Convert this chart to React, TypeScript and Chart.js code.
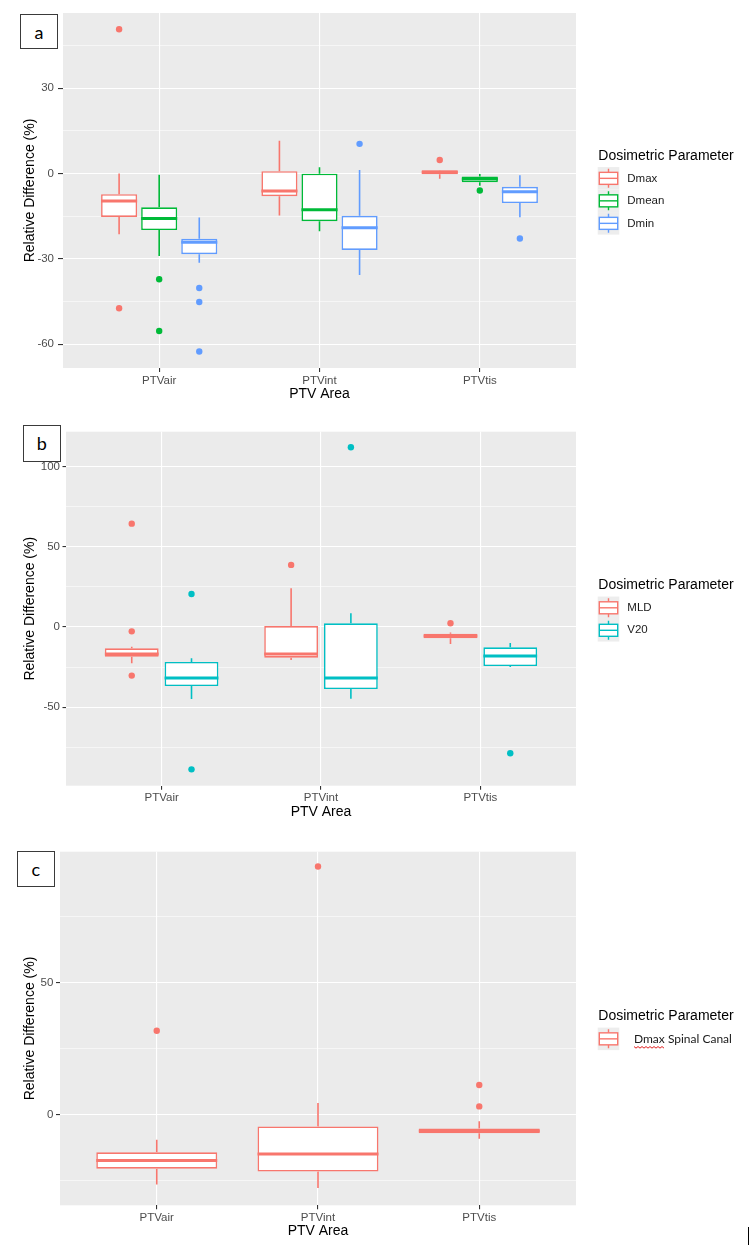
import React, { useEffect, useRef } from 'react';
import { Chart, registerables } from 'chart.js';
Chart.register(...registerables);

const FONT = '"Liberation Sans", Arial, Helvetica, sans-serif';

// ---------- shared ----------
const categories = ['PTVair', 'PTVint', 'PTVtis'];
const xTitle = 'PTV Area';
const yTitle = 'Relative Difference (%)';
const legendTitle = 'Dosimetric Parameter';

// ---------- panel a ----------
const aNames = ['Dmax', 'Dmean', 'Dmin'];
const aColors = ['#F8766D', '#00BA38', '#619CFF'];
const aDmaxLow = [-21.4, -14.8, -1.9];
const aDmaxQ1 = [-15.3, -8.0, -0.3];
const aDmaxMed = [-9.7, -6.2, 0.4];
const aDmaxQ3 = [-7.3, 0.8, 1.1];
const aDmaxHigh = [0.0, 11.5, 1.2];
const aDmaxOut = [[50.7, -47.4], [], [4.7]];
const aDmeanLow = [-29.0, -20.3, -4.3];
const aDmeanQ1 = [-19.9, -16.8, -3.1];
const aDmeanMed = [-15.8, -12.8, -2.0];
const aDmeanQ3 = [-11.9, -0.1, -1.1];
const aDmeanHigh = [-0.5, 2.2, -0.2];
const aDmeanOut = [[-37.2, -55.4], [], [-6.0]];
const aDminLow = [-31.4, -35.7, -15.4];
const aDminQ1 = [-28.4, -26.9, -10.4];
const aDminMed = [-24.2, -19.1, -6.4];
const aDminQ3 = [-23.0, -14.9, -4.7];
const aDminHigh = [-15.5, 1.2, -0.6];
const aDminOut = [[-40.3, -45.2, -62.6], [10.4], [-22.9]];
const aYRange = [-68.4, 56.4];
const aYMajor = [-60, -30, 0, 30];
const aYMinor = [-45, -15, 15, 45];

// ---------- panel b ----------
const bNames = ['MLD', 'V20'];
const bColors = ['#F8766D', '#00BFC4'];
const bMldLow = [-22.6, -20.6, -10.6];
const bMldQ1 = [-18.5, -19.1, -7.0];
const bMldMed = [-16.8, -16.8, -5.6];
const bMldQ3 = [-13.3, 0.6, -4.2];
const bMldHigh = [-12.3, 24.1, -3.5];
const bMldOut = [[64.4, -2.7, -30.3], [38.7], [2.3]];
const bV20Low = [-44.9, -44.7, -24.9];
const bV20Q1 = [-36.8, -38.7, -24.3];
const bV20Med = [-31.8, -31.8, -18.1];
const bV20Q3 = [-21.8, 2.3, -12.7];
const bV20High = [-19.5, 8.5, -10.0];
const bV20Out = [[20.6, -88.7], [112.0], [-78.7]];
const bYRange = [-98.9, 121.7];
const bYMajor = [-50, 0, 50, 100];
const bYMinor = [-75, -25, 25, 75];

// ---------- panel c ----------
const cNames = ['Dmax Spinal Canal'];
const cColors = ['#F8766D'];
const cLow = [-26.5, -27.8, -9.2];
const cQ1 = [-20.5, -21.6, -7.1];
const cMed = [-17.4, -14.9, -6.2];
const cQ3 = [-14.3, -4.5, -5.3];
const cHigh = [-9.5, 4.4, -2.5];
const cOut = [[31.8], [94.1], [11.2, 3.1]];
const cYRange = [-34.4, 99.7];
const cYMajor = [0, 50];
const cYMinor = [-25, 25, 75];

type Series = { name: string; color: string; low: number[]; q1: number[]; med: number[]; q3: number[]; high: number[]; out: number[][] };
type Panel = {
  series: Series[]; yRange: number[]; yMajor: number[]; yMinor: number[];
  height: number; top: number; plotTop: number; xAxisH: number; yAxisW: number;
  barPct: number; yTickLen: number; yTickPad: number; legendFont: string; legendTextOffset: number; squiggle?: boolean;
};

const panelA: Panel = {
  series: [
    { name: aNames[0], color: aColors[0], low: aDmaxLow, q1: aDmaxQ1, med: aDmaxMed, q3: aDmaxQ3, high: aDmaxHigh, out: aDmaxOut },
    { name: aNames[1], color: aColors[1], low: aDmeanLow, q1: aDmeanQ1, med: aDmeanMed, q3: aDmeanQ3, high: aDmeanHigh, out: aDmeanOut },
    { name: aNames[2], color: aColors[2], low: aDminLow, q1: aDminQ1, med: aDminMed, q3: aDminQ3, high: aDminHigh, out: aDminOut },
  ],
  yRange: aYRange, yMajor: aYMajor, yMinor: aYMinor,
  top: 0, height: 410, plotTop: 13, xAxisH: 42, yAxisW: 63, barPct: 0.9,
  yTickLen: 5, yTickPad: 4, legendFont: `11.5px ${FONT}`, legendTextOffset: 29.6,
};
const panelB: Panel = {
  series: [
    { name: bNames[0], color: bColors[0], low: bMldLow, q1: bMldQ1, med: bMldMed, q3: bMldQ3, high: bMldHigh, out: bMldOut },
    { name: bNames[1], color: bColors[1], low: bV20Low, q1: bV20Q1, med: bV20Med, q3: bV20Q3, high: bV20High, out: bV20Out },
  ],
  yRange: bYRange, yMajor: bYMajor, yMinor: bYMinor,
  top: 410, height: 420, plotTop: 21.7, xAxisH: 44.3, yAxisW: 66, barPct: 0.9,
  yTickLen: 3.5, yTickPad: 2.5, legendFont: `11.5px ${FONT}`, legendTextOffset: 29.6,
};
const panelC: Panel = {
  series: [
    { name: cNames[0], color: cColors[0], low: cLow, q1: cQ1, med: cMed, q3: cQ3, high: cHigh, out: cOut },
  ],
  yRange: cYRange, yMajor: cYMajor, yMinor: cYMinor,
  top: 830, height: 424, plotTop: 21.7, xAxisH: 48.7, yAxisW: 60, barPct: 1.0,
  yTickLen: 4, yTickPad: 2.7, legendFont: `12px Lato, ${FONT}`, legendTextOffset: 36.3, squiggle: true,
};

function makePlugin(p: Panel) {
  return {
    id: 'boxExtras',
    beforeDraw(chart: any) {
      const { ctx, chartArea: ca } = chart;
      ctx.save();
      ctx.fillStyle = '#EBEBEB';
      ctx.fillRect(ca.left, ca.top, ca.right - ca.left, ca.bottom - ca.top);
      ctx.restore();
    },
    beforeDatasetsDraw(chart: any) {
      const { ctx } = chart;
      const ys = chart.scales.y;
      ctx.save();
      p.series.forEach((s, g) => {
        const meta = chart.getDatasetMeta(g);
        meta.data.forEach((el: any, i: number) => {
          ctx.strokeStyle = s.color;
          ctx.lineWidth = 1.6;
          ctx.beginPath();
          ctx.moveTo(el.x, ys.getPixelForValue(s.q3[i]));
          ctx.lineTo(el.x, ys.getPixelForValue(s.high[i]));
          ctx.moveTo(el.x, ys.getPixelForValue(s.q1[i]));
          ctx.lineTo(el.x, ys.getPixelForValue(s.low[i]));
          ctx.stroke();
        });
      });
      ctx.restore();
    },
    afterDatasetsDraw(chart: any) {
      const { ctx } = chart;
      const ys = chart.scales.y;
      ctx.save();
      p.series.forEach((s, g) => {
        const meta = chart.getDatasetMeta(g);
        meta.data.forEach((el: any, i: number) => {
          const y = ys.getPixelForValue(s.med[i]);
          ctx.strokeStyle = s.color;
          ctx.lineWidth = 3;
          ctx.beginPath();
          ctx.moveTo(el.x - el.width / 2, y);
          ctx.lineTo(el.x + el.width / 2, y);
          ctx.stroke();
        });
      });
      ctx.restore();
    },
    afterDraw(chart: any) {
      const { ctx, chartArea: ca } = chart;
      const n = p.series.length;
      const keyH = 22.5, keyW = 21.6;
      const blockH = 20.7 + n * keyH;
      const top = (ca.top + ca.bottom) / 2 - blockH / 2;
      const left = ca.right + 21.7;
      ctx.save();
      ctx.fillStyle = '#000000';
      ctx.font = `14px ${FONT}`;
      ctx.textAlign = 'left';
      ctx.textBaseline = 'alphabetic';
      ctx.fillText(legendTitle, left + 0.6, top + 13.5);
      p.series.forEach((s, g) => {
        const y0 = top + 20.7 + g * keyH;
        const cy = y0 + keyH / 2;
        const cx = left + keyW / 2;
        ctx.fillStyle = '#EDEDED';
        ctx.fillRect(left, y0, keyW, keyH);
        ctx.strokeStyle = s.color;
        ctx.lineWidth = 1.4;
        ctx.beginPath();
        ctx.moveTo(cx, cy - 9.5); ctx.lineTo(cx, cy - 6);
        ctx.moveTo(cx, cy + 6); ctx.lineTo(cx, cy + 9.5);
        ctx.stroke();
        ctx.fillStyle = '#FFFFFF';
        ctx.fillRect(left + 1.6, cy - 6, keyW - 3.2, 12);
        ctx.strokeRect(left + 1.6, cy - 6, keyW - 3.2, 12);
        ctx.beginPath();
        ctx.moveTo(left + 1.6, cy); ctx.lineTo(left + keyW - 1.6, cy);
        ctx.stroke();
        ctx.fillStyle = '#1A1A1A';
        ctx.font = p.legendFont;
        ctx.textBaseline = 'middle';
        const tx = left + p.legendTextOffset;
        ctx.fillText(s.name, tx, cy);
        if (p.squiggle) {
          const w = ctx.measureText(s.name.split(' ')[0]).width;
          ctx.strokeStyle = '#E02020';
          ctx.lineWidth = 1;
          ctx.beginPath();
          const yb = cy + 8.5;
          for (let k = 0; k <= w; k += 2) {
            const yy = yb + ((k / 2) % 2 === 0 ? -0.8 : 0.8);
            if (k === 0) ctx.moveTo(tx + k, yy); else ctx.lineTo(tx + k, yy);
          }
          ctx.stroke();
        }
      });
      ctx.restore();
    },
  };
}

function buildConfig(p: Panel): any {
  const n = p.series.length;
  const slot = 0.75 / n;
  const datasets: any[] = [];
  p.series.forEach((s) => {
    datasets.push({
      type: 'bar',
      label: s.name,
      data: categories.map((c, i) => ({ x: i + 1, y: [s.q1[i], s.q3[i]] })),
      backgroundColor: '#FFFFFF',
      borderColor: s.color,
      borderWidth: 1.6,
      borderSkipped: false,
      categoryPercentage: 0.75,
      barPercentage: p.barPct,
    });
  });
  p.series.forEach((s, g) => {
    const off = (g - (n - 1) / 2) * slot;
    const pts: any[] = [];
    s.out.forEach((arr, i) => arr.forEach((v) => pts.push({ x: i + 1 + off, y: v })));
    datasets.push({
      type: 'scatter',
      label: s.name + ' outliers',
      data: pts,
      backgroundColor: s.color,
      borderColor: s.color,
      borderWidth: 0,
      pointRadius: 3.2,
      pointHoverRadius: 3.2,
    });
  });
  const yTicks = [...p.yMajor, ...p.yMinor].sort((a, b) => a - b);
  const isMajor = (v: any) => p.yMajor.includes(v);
  return {
    type: 'bar',
    data: { datasets },
    plugins: [makePlugin(p)],
    options: {
      animation: false,
      responsive: false,
      maintainAspectRatio: false,
      events: [],
      layout: { padding: { left: 0, top: p.plotTop, right: 174, bottom: 0 } },
      plugins: { legend: { display: false }, tooltip: { enabled: false } },
      scales: {
        x: {
          type: 'linear',
          min: 0.4,
          max: 3.6,
          offset: false,
          afterBuildTicks: (s: any) => { s.ticks = categories.map((c, i) => ({ value: i + 1 })); },
          afterFit: (s: any) => { s.height = p.xAxisH; },
          ticks: {
            callback: (v: any) => categories[Math.round(v) - 1],
            color: '#4D4D4D',
            font: { family: FONT, size: 11.5 },
            padding: 1.5,
            autoSkip: false,
            maxRotation: 0,
          },
          grid: { offset: false, color: '#FFFFFF', lineWidth: 1.1, tickColor: '#333333', tickLength: 4 },
          border: { display: false },
          title: {
            display: true, text: xTitle, color: '#000000',
            font: { family: FONT, size: 14 },
            padding: { top: 0, bottom: p.xAxisH - 26 - 8.4 },
          },
        },
        y: {
          type: 'linear',
          min: p.yRange[0],
          max: p.yRange[1],
          afterBuildTicks: (s: any) => { s.ticks = yTicks.map((v) => ({ value: v })); },
          afterFit: (s: any) => { s.width = p.yAxisW; },
          ticks: {
            callback: (v: any) => (isMajor(v) ? String(v) : ''),
            color: '#4D4D4D',
            font: { family: FONT, size: 11.5 },
            padding: p.yTickPad,
          },
          grid: {
            color: '#FFFFFF',
            lineWidth: (c: any) => (isMajor(c.tick && c.tick.value) ? 1.1 : 0.55),
            tickColor: (c: any) => (isMajor(c.tick && c.tick.value) ? '#333333' : 'rgba(0,0,0,0)'),
            tickLength: p.yTickLen,
          },
          border: { display: false },
          title: {
            display: true, text: yTitle, color: '#000000',
            font: { family: FONT, size: 14 },
            padding: { top: 21.6, bottom: 0 },
          },
        },
      },
    },
  };
}

function PanelChart({ p }: { p: Panel }) {
  const ref = useRef<HTMLCanvasElement>(null);
  useEffect(() => {
    const chart = new Chart(ref.current as HTMLCanvasElement, buildConfig(p));
    return () => chart.destroy();
  }, []);
  return (
    <canvas
      ref={ref}
      width={750}
      height={p.height}
      style={{ position: 'absolute', left: 0, top: p.top, width: 750, height: p.height }}
    />
  );
}

const labelBox = (text: string, left: number, top: number, w: number, h: number) => (
  <div
    style={{
      position: 'absolute', left, top, width: w, height: h, boxSizing: 'border-box',
      border: '1px solid #3A3A3A', background: '#FFFFFF', display: 'flex',
      alignItems: 'center', justifyContent: 'center',
      fontFamily: 'Lato, "Open Sans", sans-serif', fontSize: 18, color: '#000', lineHeight: 1,
    }}
  >
    {text}
  </div>
);

export default function App() {
  return (
    <div style={{ position: 'absolute', left: 0, top: 0, width: 750, height: 1254, background: '#FFFFFF', overflow: 'hidden' }}>
      <PanelChart p={panelA} />
      <PanelChart p={panelB} />
      <PanelChart p={panelC} />
      {labelBox('a', 20, 14, 38, 35)}
      {labelBox('b', 22.7, 425, 38.3, 36.7)}
      {labelBox('c', 16.7, 851, 38.3, 35.7)}
      <div style={{ position: 'absolute', left: 748, top: 1227, width: 1.3, height: 18, background: '#000' }} />
    </div>
  );
}
